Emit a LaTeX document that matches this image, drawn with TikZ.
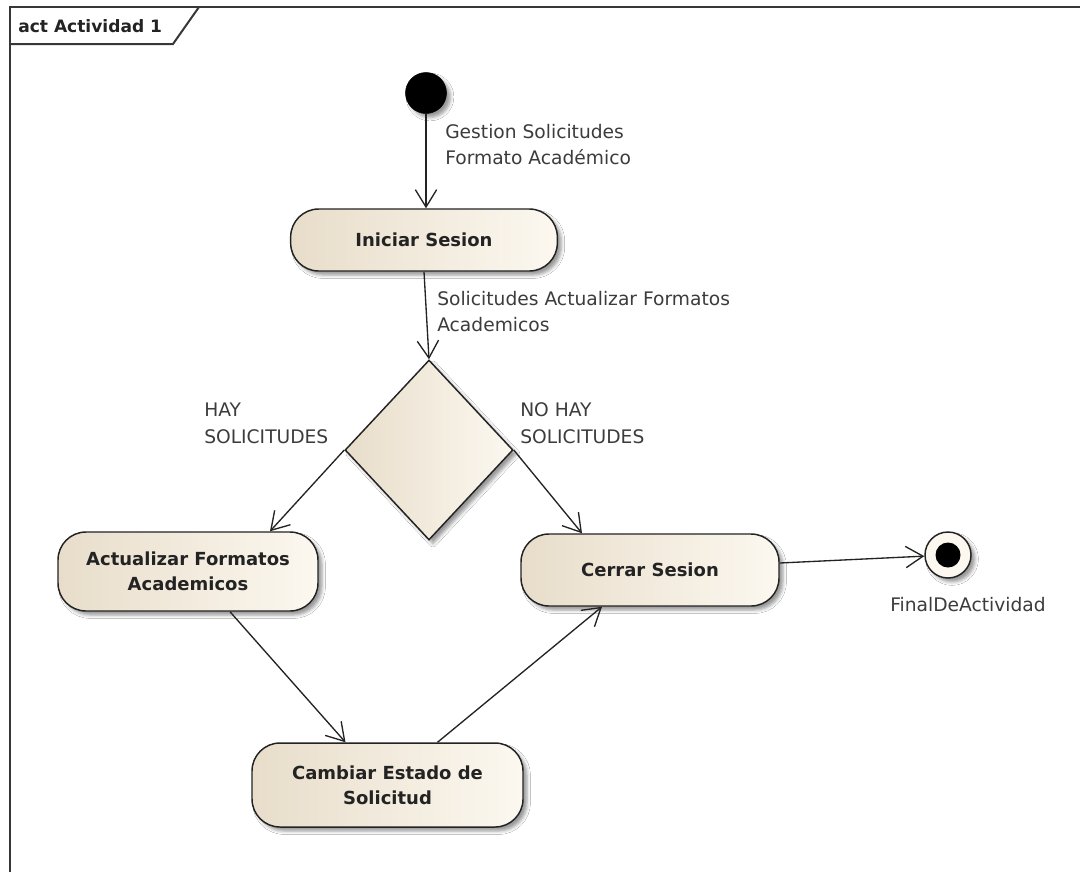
\documentclass[tikz,border=0pt]{standalone}
\usepackage{fontspec}
\setmainfont{DejaVu Sans}
\usetikzlibrary{arrows.meta,shapes.geometric,shadows.blur,calc}
\definecolor{actleft}{RGB}{232,221,202}
\definecolor{actright}{RGB}{252,248,240}
\definecolor{ink}{RGB}{35,35,35}
\definecolor{labelink}{RGB}{60,60,60}
\definecolor{framegray}{RGB}{55,55,55}
\begin{document}
\begin{tikzpicture}[x=0.75pt,y=-0.75pt,
  softshadow/.style={blur shadow={shadow xshift=3pt,shadow yshift=-3pt,shadow blur radius=2.5pt,shadow opacity=40}},
  activity/.style={rectangle,rounded corners=21pt,draw=ink,line width=1.1pt,
    left color=actleft,right color=actright,softshadow,
    font=\fontsize{13.5}{19}\selectfont\bfseries,text=ink,align=center,inner sep=0pt},
  decision/.style={diamond,draw=ink,line width=1.1pt,left color=actleft,right color=actright,
    softshadow,inner sep=0pt,minimum width=126pt,minimum height=135pt},
  initialnode/.style={circle,fill=black,draw=black,minimum size=30.75pt,inner sep=0pt,softshadow},
  finalnode/.style={circle,draw=ink,line width=1.1pt,fill=actright,minimum size=34.5pt,inner sep=0pt,softshadow},
  finaldot/.style={circle,fill=black,minimum size=18.75pt,inner sep=0pt},
  lbl/.style={font=\fontsize{14}{20}\selectfont,text=labelink,align=left,inner sep=0pt},
  flow/.style={draw=ink,line width=1pt,-{Straight Barb[length=13pt,width=16pt,line width=1pt]}},
  frameline/.style={draw=framegray,line width=1.5pt}
]
\useasboundingbox[fill=white] (0,0) rectangle (1080,872);

% diagram frame with its name tab
\draw[frameline] (10,872) -- (10,7) -- (1080,7);
\draw[frameline] (10,44) -- (173,44) -- (199,7);
\node[font=\fontsize{12.8}{16}\selectfont\bfseries,text=ink,anchor=west,inner sep=0pt] (title) at (18,26) {act Actividad 1};

% nodes
\node[initialnode] (start) at (426,93) {};
\node[activity,minimum width=200pt,minimum height=46.5pt] (ini) at (424,240) {Iniciar Sesion};
\node[decision] (dec) at (429,450) {};
\node[activity,minimum width=195pt,minimum height=59.25pt] (act) at (188,571.5) {Actualizar Formatos\\Academicos};
\node[activity,minimum width=193.5pt,minimum height=54pt] (cerrar) at (650,570) {Cerrar Sesion};
\node[activity,minimum width=203.25pt,minimum height=63pt] (cambiar) at (387.5,785) {Cambiar Estado de\\Solicitud};
\node[finalnode] (fin) at (948,555) {};
\node[finaldot] (findot) at (fin.center) {};

% labels
\node[lbl,anchor=west] (l1) at (445,144.5) {Gestion Solicitudes\\Formato Académico};
\node[lbl,anchor=west] (l2) at (437,311.5) {Solicitudes Actualizar Formatos\\Academicos};
\node[lbl,anchor=west] (l3) at (204,423.5) {HAY\\SOLICITUDES};
\node[lbl,anchor=west] (l4) at (520,423.5) {NO HAY\\SOLICITUDES};
\node[lbl] (l5) at (968,605) {FinalDeActividad};

% control flows
\draw[flow] (start) -- (start |- ini.north);
\draw[flow] (ini.south) -- (dec.north);
\draw[flow] (dec.west) -- ($(act.north)+(82,0)$);
\draw[flow] (dec.east) -- ($(cerrar.north)+(-68,0)$);
\draw[flow] ($(cerrar.east)+(0,-7)$) -- (fin);
\draw[flow] ($(act.south)+(42,0)$) -- ($(cambiar.north)+(-42,0)$);
\draw[flow] ($(cambiar.north)+(50,0)$) -- ($(cerrar.south)+(-48,0)$);
\end{tikzpicture}
\end{document}
